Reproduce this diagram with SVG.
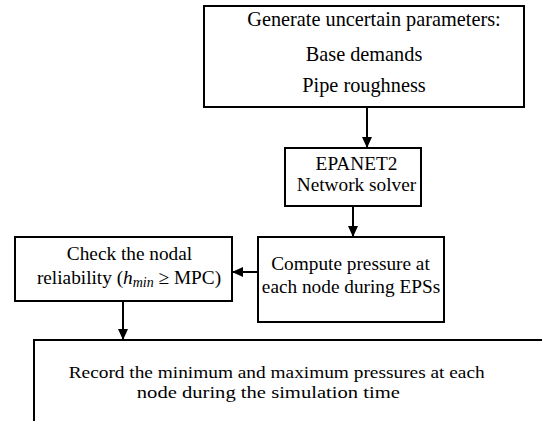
<svg xmlns="http://www.w3.org/2000/svg" width="542" height="421" viewBox="0 0 542 421">
<style>
.box{fill:#fff;stroke:#000;stroke-width:2}
.t{font-family:"Liberation Serif","Times New Roman",serif;font-size:19.3px;fill:#000;text-anchor:middle}
.big{font-size:20.3px}
.rec{font-size:17px}
.con{stroke:#000;stroke-width:2;fill:none;marker-end:url(#ah)}
</style>
<defs>
<marker id="ah" markerUnits="userSpaceOnUse" markerWidth="11" markerHeight="10" refX="11" refY="5" orient="auto">
<path d="M0,0 L11,5 L0,10 z" fill="#000"/>
</marker>
</defs>
<rect width="542" height="421" fill="#fff"/>
<g id="n1">
<rect class="box" x="204" y="6" width="320" height="101"/>
<text class="t big" x="374" y="26">Generate uncertain parameters:</text>
<text class="t big" x="364" y="61">Base demands</text>
<text class="t big" x="364" y="92">Pipe roughness</text>
</g>
<g id="n2">
<rect class="box" x="285" y="148" width="136" height="58"/>
<text class="t" x="356.5" y="169.5">EPANET2</text>
<text class="t" x="356.5" y="190.5">Network solver</text>
</g>
<g id="n3">
<rect class="box" x="258" y="237" width="186" height="85"/>
<text class="t" x="350.5" y="269.5">Compute pressure at</text>
<text class="t" x="351" y="293">each node during EPSs</text>
</g>
<g id="n4">
<rect class="box" x="15" y="237" width="217" height="64"/>
<text class="t" x="129.5" y="259.5">Check the nodal</text>
<text class="t" x="129" y="283.5">reliability (<tspan font-style="italic">h</tspan><tspan font-style="italic" font-size="14" dy="3">min</tspan><tspan dy="-3"> ≥ MPC)</tspan></text>
</g>
<g id="n5">
<rect class="box" x="34" y="340" width="520" height="100"/>
<text class="t rec" x="276.7" y="377.5" textLength="416" lengthAdjust="spacingAndGlyphs">Record the minimum and maximum pressures at each</text>
<text class="t rec" x="268.3" y="397.5" textLength="263" lengthAdjust="spacingAndGlyphs">node during the simulation time</text>
</g>
<g id="connectors">
<line class="con" x1="367" y1="107" x2="367" y2="148"/>
<line class="con" x1="353" y1="206" x2="353" y2="237"/>
<line class="con" x1="258" y1="272" x2="232" y2="272"/>
<line class="con" x1="123" y1="301" x2="123" y2="340"/>
</g>
</svg>
